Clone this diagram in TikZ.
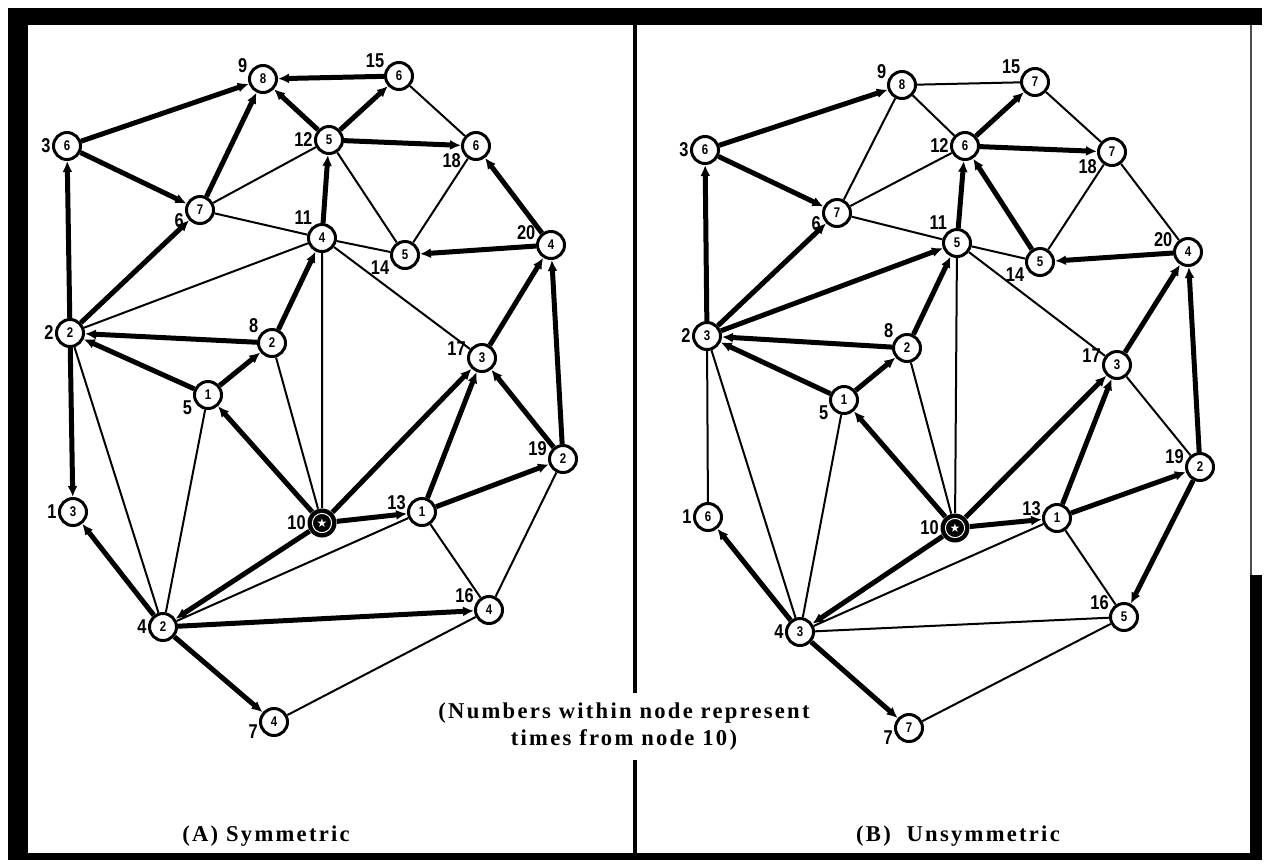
\documentclass[tikz,border=0pt]{standalone}
\usepackage{fontspec}
\usetikzlibrary{arrows.meta}
\newfontfamily\rotfont{Liberation Sans}[FakeStretch=0.82]
\newfontfamily\notafont{Liberation Serif}[LetterSpace=10]
\newfontfamily\simbfont{DejaVu Sans}
\newcommand{\estrella}{\simbfont ★}

\tikzset{
  nodo/.style={circle, draw, line width=1.5pt, minimum size=13.5pt, inner sep=0pt, fill=white,
    font=\rotfont\bfseries\fontsize{7}{7}\selectfont, label distance=1pt},
  origen/.style={circle, fill=black, minimum size=14.5pt, inner sep=0pt, text=white,
    font=\fontsize{6}{6}\selectfont, label distance=1pt},
  rot/.style={font=\rotfont\bfseries\fontsize{10}{10}\selectfont, inner sep=0.5pt, text=black},
  arco/.style={line width=1pt},
  ruta/.style={line width=2.5pt, -{Latex[length=5.5pt,width=5pt]}},
  nota/.style={font=\notafont\bfseries\fontsize{11.3}{13.5}\selectfont, align=center}
}

\begin{document}
\begin{tikzpicture}[x=0.5pt, y=-0.5pt]
  \useasboundingbox (0,0) rectangle (1268,863);
  \fill[white] (0,0) rectangle (1268,863);

  % Marco
  \fill[black] (8,8) rectangle (1262,860);
  \fill[white] (28,25) rectangle (1250,853);
  \fill[white] (1250,25) rectangle (1263,575);
  \draw[line width=0.8pt, black!70] (1251,25) -- (1251,575);
  \fill[black] (633,25) rectangle (637,693);
  \fill[black] (633,760) rectangle (637,853);

  % (A) Simetrico: nodos
  \node[nodo, label={[rot]162:9}] (A9) at (263,79) {8};
  \node[nodo, label={[rot]153:15}] (A15) at (399,76) {6};
  \node[nodo, label={[rot]180:3}] (A3) at (67,146) {6};
  \node[nodo, label={[rot]180:12}] (A12) at (329,140) {5};
  \node[nodo, label={[rot]203:18}] (A18) at (476,146) {6};
  \node[nodo, label={[rot]190:6}] (A6) at (200,210) {7};
  \node[nodo, label={[rot]125:11}] (A11) at (322,238) {4};
  \node[nodo, label={[rot]196:14}] (A14) at (405,255) {5};
  \node[nodo, label={[rot]163:20}] (A20) at (551,245) {4};
  \node[nodo, label={[rot]180:2}] (A2) at (70,333) {2};
  \node[nodo, label={[rot]145:8}] (A8) at (272,343) {2};
  \node[nodo, label={[rot]175:17}] (A17) at (482,358) {3};
  \node[nodo, label={[rot]195:5}] (A5) at (208,395) {1};
  \node[nodo, label={[rot]173:19}] (A19) at (563,459) {2};
  \node[nodo, label={[rot]180:1}] (A1) at (73,512) {3};
  \node[origen, label={[rot]180:10}] (A10) at (322,523) {\estrella};
  \node[nodo, label={[rot]177:13}] (A13) at (422,512) {1};
  \node[nodo, label={[rot]180:4}] (A4) at (163,627) {2};
  \node[nodo, label={[rot]158:16}] (A16) at (489,610) {4};
  \node[nodo, label={[rot]185:7}] (A7) at (274,722) {4};
  \draw[white, line width=0.5pt] (A10.center) circle (4.8pt);

  % (A) Simetrico: arcos
  \draw[arco] (A2) -- (A11) (A6) -- (A12) (A6) -- (A11) (A11) -- (A10)
    (A15) -- (A18) (A12) -- (A14) (A18) -- (A14) (A11) -- (A14) (A11) -- (A17)
    (A8) -- (A10) (A2) -- (A4) (A5) -- (A4) (A13) -- (A4) (A13) -- (A16)
    (A19) -- (A16) (A7) -- (A16);
  \draw[ruta] (A15) edge (A9) (A12) edge (A9) (A3) edge (A9) (A6) edge (A9)
    (A3) edge (A6) (A2) edge (A3) (A2) edge (A6) (A11) edge (A12) (A8) edge (A11)
    (A12) edge (A15) (A12) edge (A18) (A20) edge (A14) (A20) edge (A18)
    (A17) edge (A20) (A19) edge (A20) (A8) edge (A2) (A5) edge (A2) (A5) edge (A8)
    (A10) edge (A5) (A2) edge (A1) (A4) edge (A1) (A10) edge (A4) (A10) edge (A17)
    (A10) edge (A13) (A13) edge (A17) (A13) edge (A19) (A19) edge (A17)
    (A4) edge (A16) (A4) edge (A7);

  % (B) Asimetrico: nodos
  \node[nodo, label={[rot]162:9}] (B9) at (902,85) {8};
  \node[nodo, label={[rot]153:15}] (B15) at (1035,82) {7};
  \node[nodo, label={[rot]180:3}] (B3) at (705,150) {6};
  \node[nodo, label={[rot]180:12}] (B12) at (965,146) {6};
  \node[nodo, label={[rot]203:18}] (B18) at (1112,152) {7};
  \node[nodo, label={[rot]190:6}] (B6) at (837,213) {7};
  \node[nodo, label={[rot]125:11}] (B11) at (957,243) {5};
  \node[nodo, label={[rot]196:14}] (B14) at (1040,262) {5};
  \node[nodo, label={[rot]163:20}] (B20) at (1188,252) {4};
  \node[nodo, label={[rot]180:2}] (B2) at (707,336) {3};
  \node[nodo, label={[rot]145:8}] (B8) at (907,348) {2};
  \node[nodo, label={[rot]175:17}] (B17) at (1117,365) {3};
  \node[nodo, label={[rot]195:5}] (B5) at (844,400) {1};
  \node[nodo, label={[rot]173:19}] (B19) at (1200,467) {2};
  \node[nodo, label={[rot]180:1}] (B1) at (708,517) {6};
  \node[origen, label={[rot]180:10}] (B10) at (955,528) {\estrella};
  \node[nodo, label={[rot]177:13}] (B13) at (1057,518) {1};
  \node[nodo, label={[rot]180:4}] (B4) at (800,632) {3};
  \node[nodo, label={[rot]158:16}] (B16) at (1124,617) {5};
  \node[nodo, label={[rot]185:7}] (B7) at (909,728) {7};
  \draw[white, line width=0.5pt] (B10.center) circle (4.8pt);

  % (B) Asimetrico: arcos
  \draw[arco] (B9) -- (B15) (B9) -- (B12) (B9) -- (B6) (B6) -- (B12) (B6) -- (B11)
    (B15) -- (B18) (B18) -- (B14) (B18) -- (B20) (B11) -- (B14) (B11) -- (B17)
    (B8) -- (B10) (B11) -- (B10) (B2) -- (B1) (B2) -- (B4) (B5) -- (B4)
    (B13) -- (B4) (B17) -- (B19) (B13) -- (B16) (B4) -- (B16) (B7) -- (B16);
  \draw[ruta] (B3) edge (B9) (B3) edge (B6) (B2) edge (B3) (B2) edge (B6)
    (B2) edge (B11) (B11) edge (B12) (B14) edge (B12) (B12) edge (B15)
    (B12) edge (B18) (B20) edge (B14) (B17) edge (B20) (B19) edge (B20)
    (B8) edge (B11) (B8) edge (B2) (B5) edge (B2) (B5) edge (B8) (B10) edge (B5)
    (B4) edge (B1) (B10) edge (B4) (B10) edge (B17) (B10) edge (B13)
    (B13) edge (B17) (B13) edge (B19) (B19) edge (B16) (B4) edge (B7);

  % Textos
  \node[nota] (leyenda) at (624,727) {(Numbers within node represent\\times from node 10)};
  \node[nota] (capA) at (266,836) {(A) Symmetric};
  \node[nota] (capB) at (958,836) {(B)\ \ Unsymmetric};
\end{tikzpicture}
\end{document}
